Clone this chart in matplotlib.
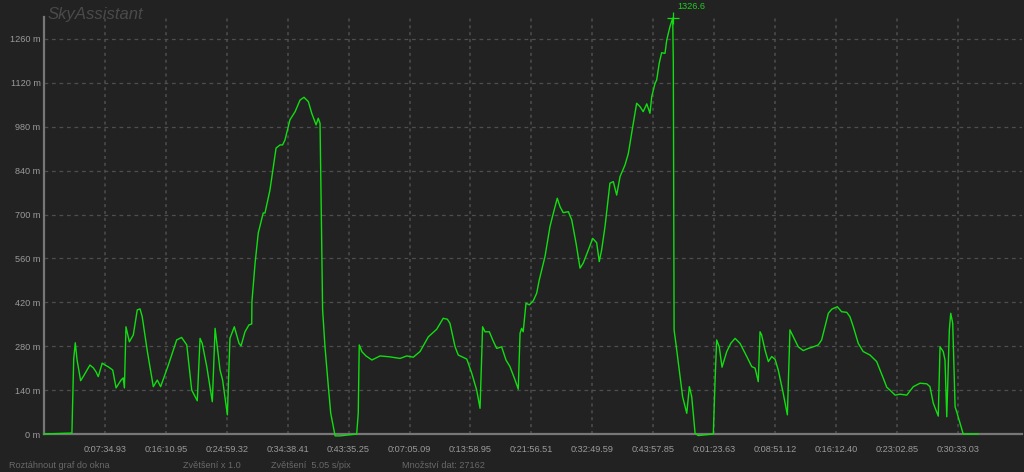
import matplotlib
matplotlib.use("Agg")
import matplotlib.pyplot as plt
import numpy as np

# ---- data (elapsed seconds, altitude in m) ----
SEC_PER_PIX = 5.05
elapsed_s = [0, 141, 150, 158, 167, 185, 198, 217, 232, 249, 263, 274, 294, 308, 325, 347, 364, 389, 400, 406,
             414, 431, 451, 471, 485, 496, 522, 552, 572, 589, 628, 670, 695, 721, 746, 774, 788, 799, 822, 850,
             864, 889, 902, 926, 939, 961, 985, 995, 1015, 1035, 1049, 1050, 1066, 1082, 1107, 1116, 1141, 1172,
             1192, 1205, 1217, 1242, 1268, 1293, 1313, 1335, 1352, 1374, 1385, 1394, 1407, 1419, 1436, 1448, 1470,
             1495, 1579, 1587, 1592, 1606, 1626, 1656, 1697, 1747, 1798, 1832, 1865, 1899, 1941, 1983, 2016, 2037,
             2050, 2076, 2092, 2109, 2135, 2160, 2185, 2202, 2215, 2227, 2249, 2266, 2286, 2311, 2333, 2353, 2379,
             2395, 2404, 2412, 2420, 2434, 2451, 2471, 2488, 2501, 2530, 2555, 2572, 2592, 2606, 2622, 2648, 2665,
             2687, 2707, 2723, 2749, 2771, 2791, 2804, 2816, 2833, 2858, 2875, 2892, 2909, 2934, 2951, 2973, 2993,
             3010, 3026, 3044, 3060, 3069, 3086, 3094, 3107, 3119, 3136, 3145, 3161, 3175, 3178, 3182, 3192, 3212,
             3225, 3246, 3259, 3271, 3288, 3304, 3380, 3389, 3397, 3410, 3424, 3448, 3468, 3490, 3515, 3549, 3574,
             3591, 3607, 3616, 3624, 3641, 3658, 3675, 3692, 3708, 3733, 3754, 3767, 3784, 3809, 3834, 3860, 3885,
             3910, 3927, 3944, 3961, 3978, 4006, 4028, 4054, 4070, 4087, 4112, 4137, 4171, 4205, 4222, 4242, 4256,
             4272, 4298, 4323, 4357, 4390, 4424, 4458, 4474, 4491, 4516, 4525, 4541, 4550, 4559, 4572, 4579, 4589,
             4601, 4609, 4626, 4642, 4717]
altitude_m = [0, 3, 239, 291, 236, 170, 183, 204, 220, 211, 198, 183, 226, 220, 214, 204, 147, 172, 179, 147,
              342, 294, 316, 396, 399, 374, 263, 151, 172, 151, 220, 300, 308, 284, 140, 106, 305, 289, 215, 103,
              337, 204, 172, 61, 305, 342, 289, 281, 326, 348, 351, 422, 545, 641, 705, 705, 778, 912,
              922, 922, 938, 1002, 1028, 1065, 1074, 1060, 1023, 986, 1007, 991, 396, 278, 151, 66, -6,
              -6, 0, 67, 284, 262, 249, 236, 249, 246, 241, 249, 245, 263, 310, 334, 369, 366,
              353, 278, 252, 247, 239, 194, 140, 82, 342, 326, 326, 300, 273, 278, 236, 215, 172,
              143, 321, 337, 326, 417, 412, 425, 449, 491, 566, 661, 704, 752, 725, 706, 709, 683,
              608, 529, 545, 587, 624, 610, 550, 587, 661, 800, 805, 762, 821, 858, 895, 980, 1055,
              1044, 1028, 1053, 1023, 1076, 1119, 1129, 1183, 1216, 1214, 1257, 1299, 1326.6, 1187, 332, 284, 183,
              119, 66, 151, 119, 2, -5, 0, 172, 300, 278, 213, 263, 289, 305, 289, 247, 215,
              210, 167, 326, 316, 268, 231, 247, 238, 204, 130, 61, 332, 310, 278, 266, 273, 278,
              284, 300, 342, 385, 398, 406, 390, 388, 374, 342, 289, 263, 252, 231, 204, 172, 149,
              140, 124, 127, 124, 151, 162, 160, 151, 98, 57, 278, 263, 236, 55, 332, 385, 353,
              87, 71, 34, 0, 0]

y_ticks = [0, 140, 280, 420, 560, 700, 840, 980, 1120, 1260]
x_tick_labels = ["0:07:34.93", "0:16:10.95", "0:24:59.32", "0:34:38.41", "0:43:35.25",
                 "0:07:05.09", "0:13:58.95", "0:21:56.51", "0:32:49.59", "0:43:57.85",
                 "0:01:23.63", "0:08:51.12", "0:16:12.40", "0:23:02.85", "0:30:33.03"]
title_text = "SkyAssistant"
peak_label = "1326.6"
status_texts = ["Roztáhnout graf do okna", "Zvětšení x 1.0", "Zvětšení  5.05 s/pix", "Množství dat: 27162"]

# ---- style ----
BG = "#222222"
GRID = "#4e4e4e"
AXIS = "#777777"
TXT = "#9a9a9a"
GREEN = "#11dd11"
plt.rcParams['font.family'] = ['Liberation Sans', 'DejaVu Sans']

W, H = 1024, 472
fig = plt.figure(figsize=(W / 100, H / 100), dpi=100, facecolor=BG)
ax = fig.add_axes([44 / W, (H - 434) / H, (1022 - 44) / W, (434 - 17) / H])
ax.set_facecolor(BG)

x = np.array(elapsed_s, dtype=float)
y = np.array(altitude_m, dtype=float)
ax.set_xlim(0, (1022 - 44) * SEC_PER_PIX)
ax.set_ylim(0, 1330)

# grid
first_tick = 61 * SEC_PER_PIX
tick_step = 60.9 * SEC_PER_PIX
x_ticks = [first_tick + k * tick_step for k in range(len(x_tick_labels))]
for yt in y_ticks[1:]:
    ax.axhline(yt, color=GRID, lw=0.9, dashes=(3, 3), zorder=1)
for xt in x_ticks:
    ax.axvline(xt, color=GRID, lw=1.1, dashes=(2, 2.5), zorder=1)

ax.plot(x, y, color=GREEN, lw=1.0, zorder=4, clip_on=False)

# peak marker
ipk = int(np.argmax(y))
ax.plot([x[ipk]], [y[ipk]], marker='+', color=GREEN, ms=8, mew=0.9, zorder=5, clip_on=False)
ax.annotate(peak_label, (x[ipk], y[ipk]), xytext=(5, 7), textcoords='offset pixels',
            color="#22cc22", fontsize=6.6, ha='left', va='bottom', annotation_clip=False)

for s in ['top', 'right']:
    ax.spines[s].set_visible(False)
for s in ['left', 'bottom']:
    ax.spines[s].set_color(AXIS)
    ax.spines[s].set_linewidth(1.6)
    ax.spines[s].set_zorder(3)

ax.set_yticks(y_ticks)
ax.set_yticklabels([f"{v} m" for v in y_ticks])
ax.set_xticks(x_ticks)
ax.set_xticklabels(x_tick_labels)
ax.tick_params(axis='both', length=0, colors=TXT, labelsize=6.6)
ax.tick_params(axis='y', pad=2.5)
ax.tick_params(axis='x', pad=8)

fig.text(48 / W, 1 - 14 / H, title_text, color="#4a4a4a", fontsize=12, style='italic',
         ha='left', va='center')

status_x = [9, 183, 271, 402]
for sx, st in zip(status_x, status_texts):
    fig.text(sx / W, 1 - 465 / H, st, color="#686868", fontsize=6.6, ha='left', va='center')

fig.savefig("out.png", dpi=100, facecolor=BG)
